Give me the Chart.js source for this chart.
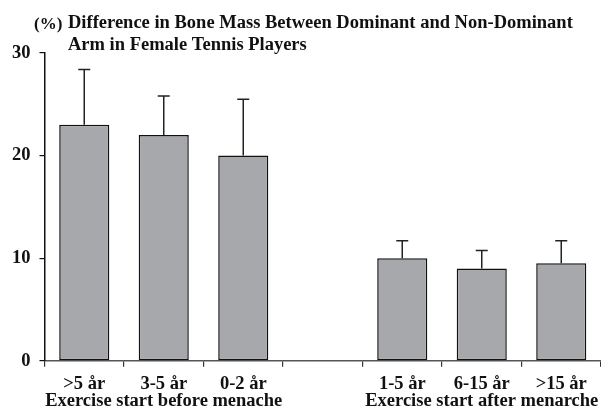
<!DOCTYPE html>
<html>
<head>
<meta charset="utf-8">
<script src="https://cdn.jsdelivr.net/npm/chart.js@4/dist/chart.umd.min.js"></script>
<style>
  html, body { margin: 0; padding: 0; background: #fff; }
  #wrap { width: 601px; height: 410px; }
</style>
</head>
<body>
<div id="wrap"><canvas id="chart" width="601" height="410"></canvas></div>
<script>
// values
const categories = ['>5 år', '3-5 år', '0-2 år', '', '1-5 år', '6-15 år', '>15 år'];
const boneDiff = [23, 22, 20, null, 10, 9, 9.5];
const errorTop = [28.4, 25.8, 25.5, null, 11.7, 10.75, 11.7];
const yTicks = [0, 10, 20, 30];
const groupLabels = ['Exercise start before menache', 'Exercise start after menarche'];
const groupAt = [1, 5];  // category index each group label sits under

const serif = '"Liberation Serif", "Times New Roman", serif';

// error bars, drawn through the y scale
const errorBars = {
    id: 'errorBars',
    afterDatasetsDraw(chart) {
        const ctx = chart.ctx;
        const y = chart.scales.y;
        const meta = chart.getDatasetMeta(0);
        ctx.save();
        ctx.strokeStyle = '#222';
        ctx.lineWidth = 1.5;
        meta.data.forEach((bar, i) => {
            if (boneDiff[i] == null) return;
            const top = y.getPixelForValue(errorTop[i]);
            ctx.beginPath();
            ctx.moveTo(bar.x, bar.y);
            ctx.lineTo(bar.x, top);
            ctx.moveTo(bar.x - 6, top);
            ctx.lineTo(bar.x + 6, top);
            ctx.stroke();
        });
        ctx.restore();
    }
};

// title and group labels
const texts = {
    id: 'texts',
    afterDraw(chart) {
        const ctx = chart.ctx;
        const x = chart.scales.x;
        ctx.save();
        ctx.fillStyle = '#111';
        ctx.textBaseline = 'alphabetic';
        ctx.textAlign = 'left';
        ctx.font = 'bold 17px ' + serif;
        ctx.fillText('(%)', 34, 29);
        ctx.font = 'bold 18.5px ' + serif;
        ctx.fillText('Difference in Bone Mass Between Dominant and Non-Dominant', 68, 28);
        ctx.fillText('Arm in Female Tennis Players', 68, 50);
        ctx.textAlign = 'center';
        groupLabels.forEach((lbl, k) => {
            ctx.fillText(lbl, x.getPixelForValue(groupAt[k]), 406);
        });
        ctx.restore();
    }
};

new Chart(document.getElementById('chart'), {
    type: 'bar',
    data: {
        labels: categories,
        datasets: [{
            data: boneDiff,
            backgroundColor: '#a7a8ab',
            borderColor: '#111',
            borderWidth: 1.5,
            borderSkipped: false,
            barPercentage: 0.63,
            categoryPercentage: 1
        }]
    },
    options: {
        responsive: false,
        animation: false,
        layout: { padding: { top: 53, left: 3, right: 0, bottom: 9 } },
        plugins: { legend: { display: false }, tooltip: { enabled: false }, title: { display: false } },
        scales: {
            x: {
                offset: true,
                grid: { offset: true, drawOnChartArea: false, drawTicks: true, tickLength: 6, color: '#333', lineWidth: 1.2 },
                border: { color: '#555', width: 1.5 },
                ticks: { color: '#111', font: { family: serif, size: 18.5, weight: 'bold' }, padding: 6, maxRotation: 0, autoSkip: false }
            },
            y: {
                min: 0,
                max: 30,
                afterBuildTicks: (axis) => { axis.ticks = yTicks.map(v => ({ value: v })); },
                grid: { drawOnChartArea: false, drawTicks: true, tickLength: 5, color: '#111', lineWidth: 1.2 },
                border: { color: '#111', width: 1.5 },
                ticks: { color: '#111', font: { family: serif, size: 18.5, weight: 'bold' }, padding: 9 }
            }
        }
    },
    plugins: [errorBars, texts]
});
</script>
</body>
</html>
